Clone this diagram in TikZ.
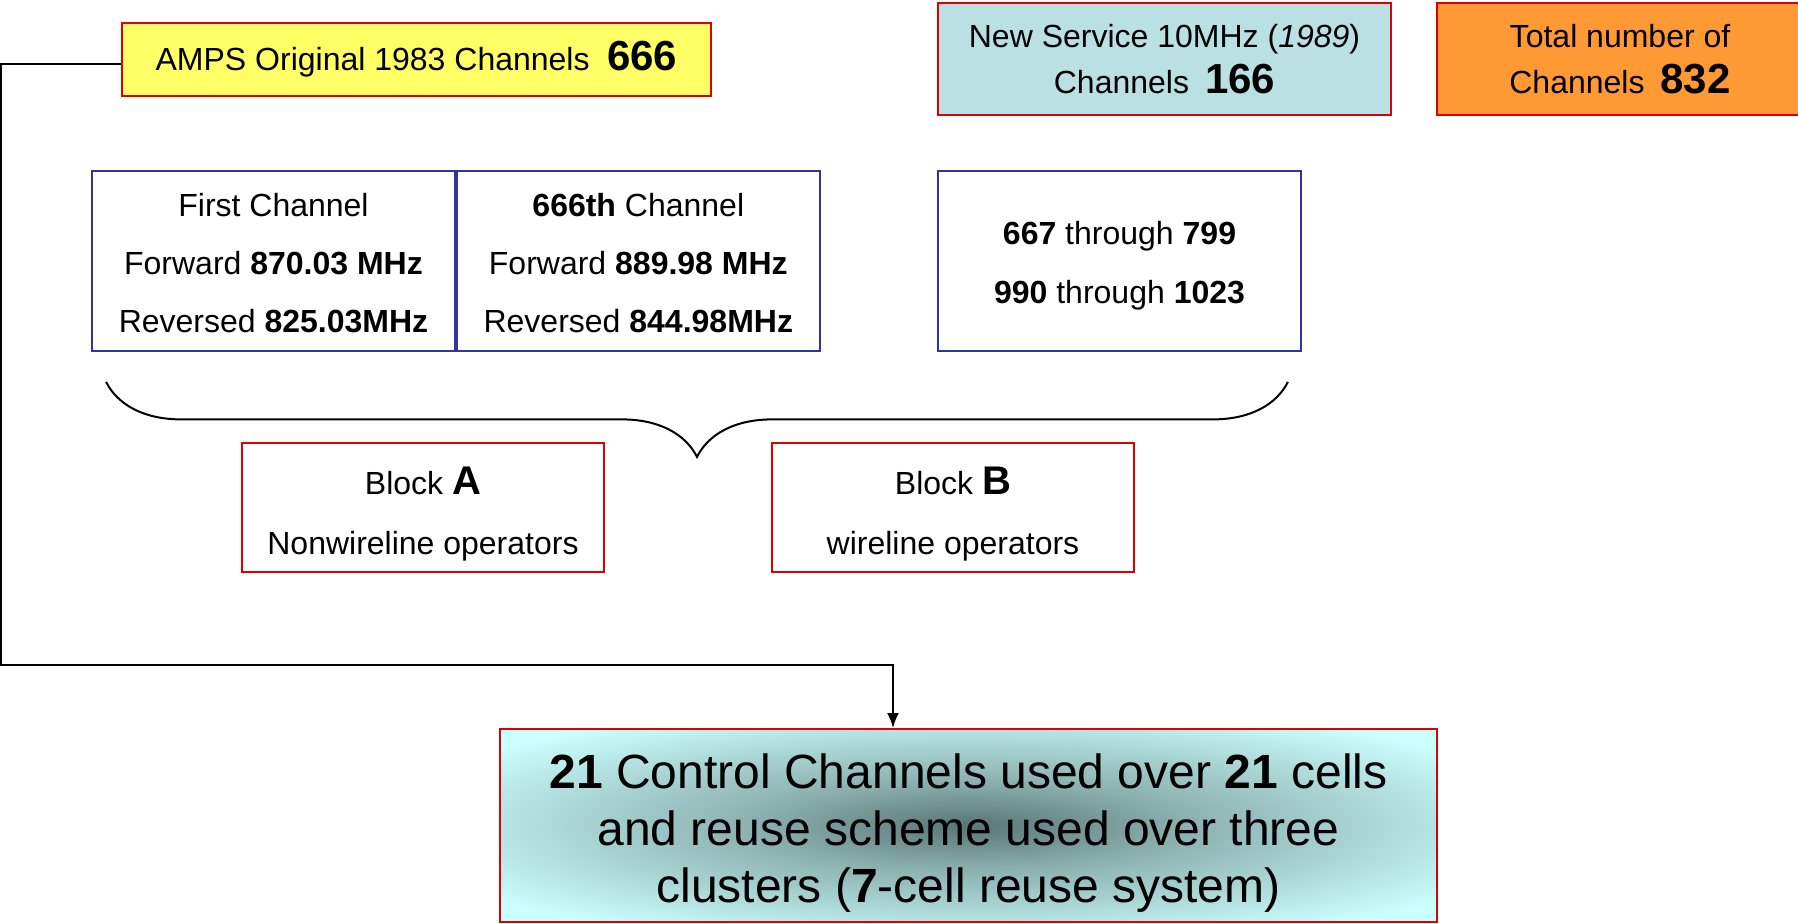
\documentclass[tikz,border=0pt]{standalone}
\usepackage{fontspec}
\setmainfont{Liberation Sans}
\usetikzlibrary{arrows.meta,calc,decorations.pathreplacing}
\definecolor{ampsyel}{HTML}{FFFF66}
\definecolor{newblue}{HTML}{BBE0E3}
\definecolor{totorg}{HTML}{FF9933}
\definecolor{redline}{HTML}{DD0000}
\definecolor{chanblue}{HTML}{3333A0}
\definecolor{ctrlin}{HTML}{5A7676}
\definecolor{ctrlmid}{HTML}{8EB2B2}
\definecolor{ctrlout}{HTML}{CCFFFF}
\pgfdeclareradialshading{ctrlglow}{\pgfpoint{0bp}{0bp}}{color(0bp)=(ctrlin); color(12bp)=(ctrlmid); color(32bp)=(ctrlout); color(50bp)=(ctrlout)}
\newcommand{\bignum}[1]{{\fontsize{21pt}{23pt}\selectfont\textbf{#1}}}
\newcommand{\up}[1]{\rule{0pt}{#1}}
\tikzset{feed/.style={-{Latex[length=7.5pt,width=6pt]}, line width=1pt},
  hdr/.style={draw=redline, line width=1pt, align=center, font=\fontsize{16pt}{23pt}\selectfont},
  chan/.style={draw=chanblue, line width=0.9pt, minimum width=181.5pt, minimum height=90pt, align=center, font=\fontsize{16pt}{29pt}\selectfont},
  blkbox/.style={draw=redline, line width=0.9pt, minimum width=181pt, minimum height=64.5pt, align=center, font=\fontsize{16pt}{30pt}\selectfont}}

\begin{document}
\begin{tikzpicture}[x=0.5pt, y=-0.5pt]
  \useasboundingbox (0,0) rectangle (1798,924);
  % top row
  \node[hdr, fill=ampsyel, minimum width=294.5pt, minimum height=36.5pt] (amps) at (416.5,59.5) {\up{14pt}AMPS Original 1983 Channels\hspace{0.55em}\bignum{666}};
  \node[hdr, fill=newblue, minimum width=226.5pt, minimum height=56pt] (newsvc) at (1164.5,59) {New Service 10MHz (\textit{1989})\\Channels\hspace{0.5em}\bignum{166}};
  \node[hdr, fill=totorg, minimum width=183pt, minimum height=56pt] (total) at (1620,59) {Total number of\\Channels\hspace{0.5em}\bignum{832}};
  % channel ranges
  \node[chan] (first) at (273.5,261) {\up{14pt}First Channel\\Forward \textbf{870.03 MHz}\\Reversed \textbf{825.03MHz}};
  \node[chan, anchor=west] (last) at (first.east) {\up{14pt}\textbf{666th} Channel\\Forward \textbf{889.98 MHz}\\Reversed \textbf{844.98MHz}};
  \node[chan, font=\fontsize{16pt}{29.5pt}\selectfont] (range) at (1119.5,261) {\up{16pt}\textbf{667} through \textbf{799}\\\textbf{990} through \textbf{1023}};
  \draw[line width=1pt, decorate, decoration={brace, amplitude=37.5pt}]
    ([shift={(-7pt,-15pt)}]range.south east) -- ([shift={(7.5pt,-15pt)}]first.south west);
  % blocks
  \node[blkbox] (blka) at (423,507.5) {\up{20.5pt}Block {\fontsize{20pt}{30pt}\selectfont\textbf{A}}\\Nonwireline operators};
  \node[blkbox] (blkb) at (953,507.5) {\up{20.5pt}Block {\fontsize{20pt}{30pt}\selectfont\textbf{B}}\\wireline operators};
  % control channels
  \node[draw=redline, line width=1pt, shade, shading=ctrlglow, minimum width=468.5pt, minimum height=96.5pt, align=center, font=\fontsize{24pt}{28.5pt}\selectfont] (ctrl) at (968.5,825.5)
    {\up{24.5pt}\textbf{21} Control Channels used over \textbf{21} cells\\and reuse scheme used over three\\clusters (\textbf{7}-cell reuse system)};
  \coordinate (corner) at (1,665);
  \draw[feed] ([yshift=-2.5pt]amps.west) -| (corner) -| ([xshift=-37.75pt]ctrl.north);
\end{tikzpicture}
\end{document}
